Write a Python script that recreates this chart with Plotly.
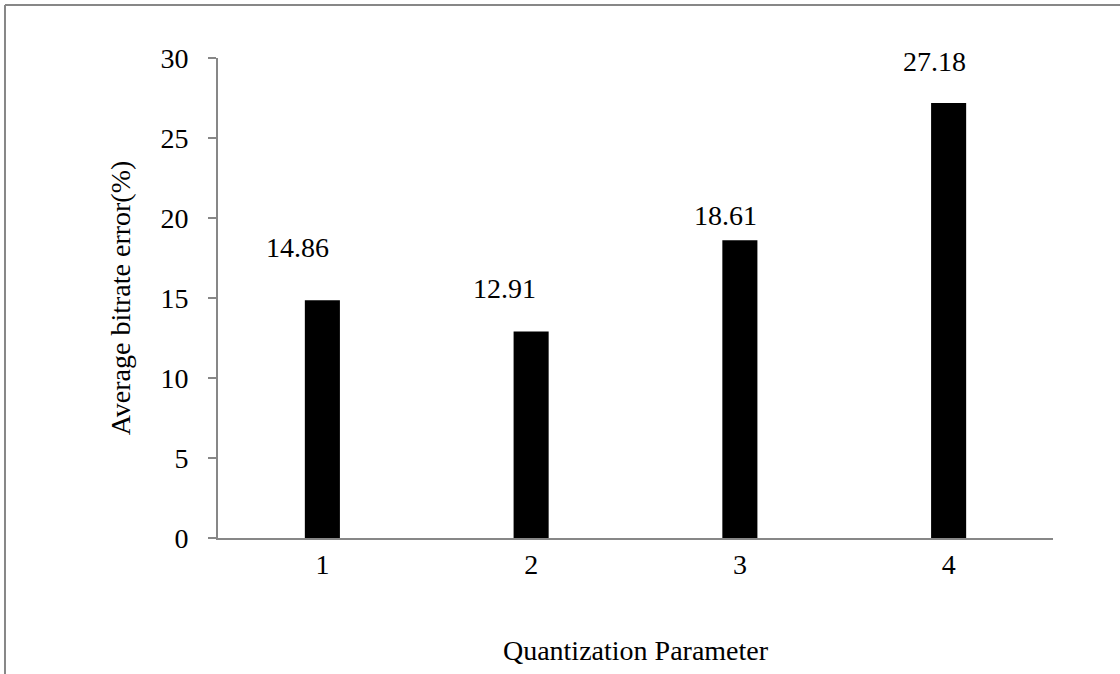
import plotly.graph_objects as go

categories = [1, 2, 3, 4]
values = [14.86, 12.91, 18.61, 27.18]
value_labels = ["14.86", "12.91", "18.61", "27.18"]
x_tick_labels = ["1", "2", "3", "4"]
y_ticks = [0, 5, 10, 15, 20, 25, 30]

# label placement offsets (pixels) relative to bar tops
label_dx = [-25, -27, -14, -14]
label_dy = [53, 43, 25, 42]

FONT = "Liberation Serif, Times New Roman, serif"
GRAY = "#878787"

fig = go.Figure()
fig.add_trace(go.Bar(x=categories, y=values, marker=dict(color="black", line=dict(width=0)),
                     hoverinfo="skip"))

for c, v, t, dx, dy in zip(categories, values, value_labels, label_dx, label_dy):
    fig.add_annotation(x=c, y=v, text=t, showarrow=False, xshift=dx, yshift=dy,
                       yanchor="middle", xanchor="center",
                       font=dict(family=FONT, size=28, color="black"))

fig.update_layout(
    width=1120, height=674,
    margin=dict(l=218, r=67, t=58, b=136),
    paper_bgcolor="white", plot_bgcolor="white",
    bargap=0.832,
    showlegend=False,
    font=dict(family=FONT, size=28, color="black"),
    xaxis=dict(range=[0.5, 4.5], tickvals=categories, ticktext=x_tick_labels,
               showline=True, linecolor=GRAY, linewidth=2,
               ticks="", showgrid=False, zeroline=False,
               ticklabelstandoff=0,
               title=dict(text="Quantization Parameter", standoff=62,
                          font=dict(family=FONT, size=28))),
    yaxis=dict(range=[0, 30], tickvals=y_ticks, showline=True, linecolor=GRAY, linewidth=2,
               ticks="outside", ticklen=8, tickcolor=GRAY, tickwidth=2,
               showgrid=False, zeroline=False, ticklabelstandoff=14,
               title=dict(text="Average bitrate error(%)", standoff=22,
                          font=dict(family=FONT, size=28))),
)

# small tick at the left end of the category axis
fig.add_shape(type="line", xref="paper", x0=0, x1=0, yref="y", ysizemode="pixel",
              yanchor=0, y0=0, y1=-7, line=dict(color=GRAY, width=2))

# outer frame (top and left edges)
fig.add_shape(type="line", xref="paper", yref="paper", x0=-0.2551, x1=1.2, y0=1.1104, y1=1.1104,
              line=dict(color=GRAY, width=2))
fig.add_shape(type="line", xref="paper", yref="paper", x0=-0.2551, x1=-0.2551, y0=1.1104, y1=-0.3,
              line=dict(color=GRAY, width=2))

fig.write_html("out.html")
